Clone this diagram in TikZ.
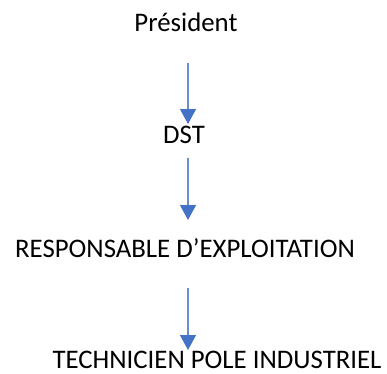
\documentclass[tikz,border=0pt]{standalone}
\usepackage{fontspec}
\setmainfont{Carlito}
\usetikzlibrary{arrows.meta}
\definecolor{offblue}{HTML}{4472C4}
\begin{document}
\begin{tikzpicture}[x=1pt,y=-1pt,
  lbl/.style={anchor=base,inner sep=0pt,font=\fontsize{26.8}{30}\selectfont},
  conn/.style={draw=offblue!80,line width=1.2pt,-{Triangle[width=16pt,length=15pt,fill=offblue,color=offblue]}}]
\useasboundingbox (0,0) rectangle (387,373);
\node[lbl] (pres) at (186,31) {Président};
\node[lbl] (dst) at (184,143) {DST};
\node[lbl] (resp) at (185,257) {RESPONSABLE D’EXPLOITATION};
\node[lbl] (tech) at (217,368.5) {TECHNICIEN POLE INDUSTRIEL};
\coordinate (a1s) at (188,63);
\coordinate (a1e) at (188,124);
\coordinate (a2s) at (188,158);
\coordinate (a2e) at (188,220);
\coordinate (a3s) at (188,288);
\coordinate (a3e) at (188,350);
\draw[conn] (a1s) -- (a1e);
\draw[conn] (a2s) -- (a2e);
\draw[conn] (a3s) -- (a3e);
\end{tikzpicture}
\end{document}
